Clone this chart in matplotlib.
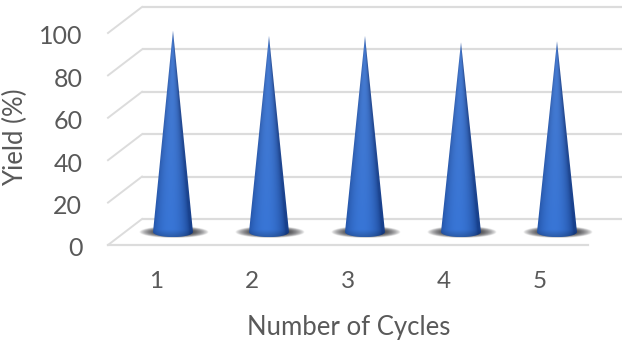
import numpy as np
import matplotlib
matplotlib.use('Agg')
import matplotlib.pyplot as plt
from matplotlib.patches import Polygon
from matplotlib.transforms import ScaledTranslation

# valores
ciclos = [1, 2, 3, 4, 5]
rendimiento = [95, 92.5, 92.5, 89.5, 90]
ticks_y = [0, 20, 40, 60, 80, 100]

# profundidad del piso en unidades de datos
prof_x = 0.354
prof_y = 12.26
ancho_cono = 0.208
alto_base = 2.4

plt.rcParams['font.family'] = ['Lato', 'DejaVu Sans']
gris = '#595959'
linea = '#dcdcdc'

fig = plt.figure(figsize=(6.29, 3.41), dpi=100)
ax = fig.add_axes([108 / 629, 1 - 245 / 341, (622 - 108) / 629, (245 - 7) / 341])
xlim = (0.5, 5.5 + prof_x)
ylim = (0, 100 + prof_y)

# rejilla: pared del fondo y lateral
for v in ticks_y:
    ax.plot([0.5 + prof_x, 5.5 + prof_x], [v + prof_y, v + prof_y], color=linea, lw=1.6, zorder=1, solid_capstyle='butt', clip_on=False)
    ax.plot([0.5, 0.5 + prof_x], [v, v + prof_y], color=linea, lw=1.4, zorder=1, clip_on=False)
ax.plot([0.5, 5.5], [0, 0], color=linea, lw=1.6, zorder=1, clip_on=False)


def dibujar_sombra(xc, yc):
    xs = np.linspace(-1, 1, 120)
    ys = np.linspace(-1, 1, 40)
    X, Y = np.meshgrid(xs, ys)
    alfa = np.clip(1 - (np.abs(X) ** 2 + Y ** 2), 0, 1) ** 0.8
    img = np.zeros((40, 120, 4))
    img[..., :3] = (0.10, 0.10, 0.12)
    img[..., 3] = alfa
    ax.imshow(img, extent=(xc - 0.35, xc + 0.37, yc - 2.8, yc + 2.6), aspect='auto', origin='lower', zorder=2, interpolation='bilinear')


def dibujar_cono(xc, yc, valor):
    tope = yc + valor
    abajo = yc - alto_base
    ny, nx = 300, 120
    xs = np.linspace(xc - ancho_cono, xc + ancho_cono, nx)
    ys = np.linspace(abajo, tope, ny)
    X, Y = np.meshgrid(xs, ys)
    mitad = np.maximum(ancho_cono * (tope - Y) / valor, 0.002)
    t = np.clip((X - xc) / mitad, -1, 1)
    # brillo central un poco a la izquierda
    luz = np.clip(1 - (t + 0.15) ** 2, 0, 1) ** 0.7
    oscuro = np.array([0.09, 0.25, 0.55])
    claro = np.array([0.22, 0.46, 0.84])
    img = oscuro + (claro - oscuro) * luz[..., None]
    # parte de arriba mas apagada
    f = ((Y - yc) / valor)[..., None]
    img = img * (1 - 0.3 * f) + np.array([0.42, 0.53, 0.74]) * 0.3 * f
    pie = np.clip((yc + 1 - Y) / 4, 0, 1)[..., None]
    img = img * (1 - 0.25 * pie)
    im = ax.imshow(np.clip(img, 0, 1), extent=(xs[0], xs[-1], ys[0], ys[-1]), aspect='auto', origin='lower', zorder=3, interpolation='bilinear')
    ang = np.linspace(np.pi, 2 * np.pi, 40)
    arco = np.column_stack([xc + ancho_cono * np.cos(ang), yc + alto_base * np.sin(ang)])
    contorno = np.vstack([[[xc, tope]], arco])
    forma = Polygon(contorno, closed=True, transform=ax.transData, facecolor='none', edgecolor='none')
    ax.add_patch(forma)
    im.set_clip_path(forma)


for c in ciclos:
    dibujar_sombra(c + prof_x / 2, prof_y / 2)
for c, r in zip(ciclos, rendimiento):
    dibujar_cono(c + prof_x / 2, prof_y / 2, r)

ax.set_xlim(*xlim)
ax.set_ylim(*ylim)
ax.set_xticks(ciclos)
ax.set_yticks(ticks_y)
ax.tick_params(axis='both', length=0, labelcolor=gris)
ax.tick_params(axis='x', pad=19, labelsize=17.5)
ax.tick_params(axis='y', pad=18.5, labelsize=18)
# las etiquetas del eje y quedan 2 px mas abajo que la linea
bajar = ScaledTranslation(0, -2 / 100, fig.dpi_scale_trans)
for lab in ax.get_yticklabels():
    lab.set_transform(lab.get_transform() + bajar)
for s in ax.spines.values():
    s.set_visible(False)
ax.set_xlabel('Number of Cycles', fontsize=18.5, color=gris)
ax.set_ylabel('Yield (%)', fontsize=18.5, color=gris)
ax.xaxis.set_label_coords((349 - 108) / (622 - 108), -(327 - 245) / (245 - 7), transform=ax.transAxes)
ax.xaxis.label.set_va('center')
ax.yaxis.set_label_coords(-(108 - 15) / (622 - 108), (245 - 137) / (245 - 7), transform=ax.transAxes)
ax.yaxis.label.set_va('center')

fig.savefig('out.png', dpi=100)
